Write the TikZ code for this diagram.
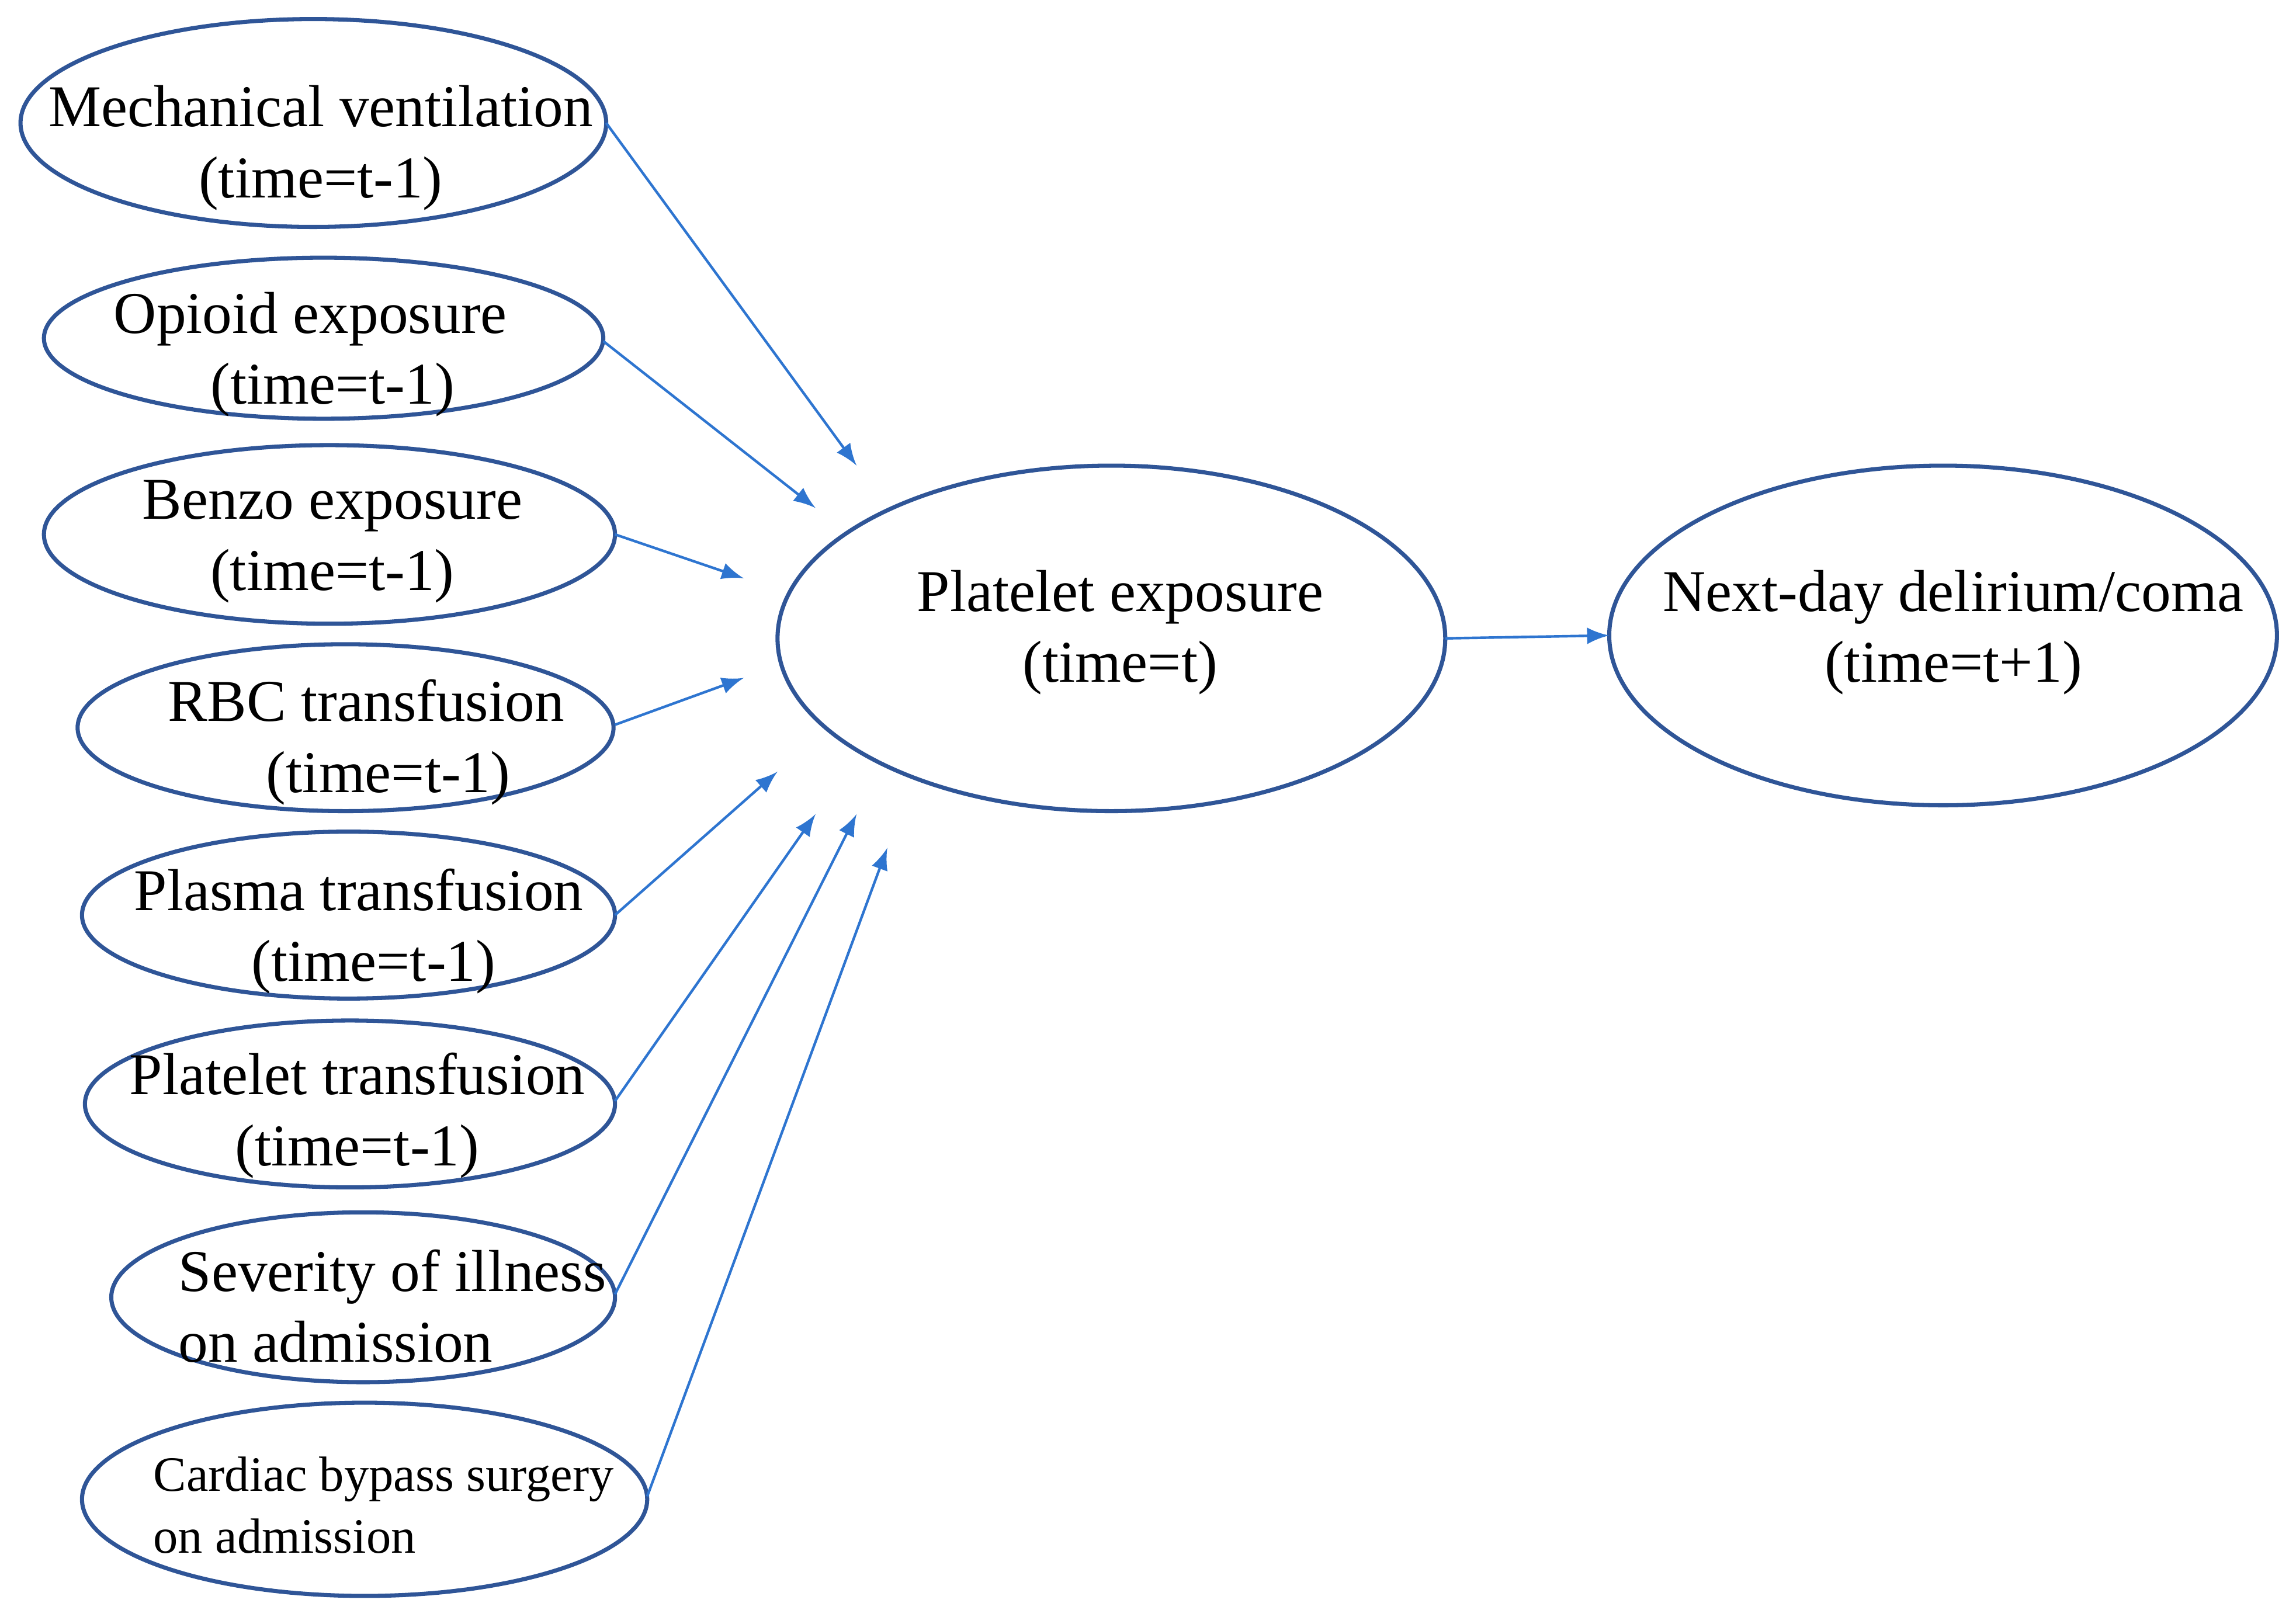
\documentclass[tikz,border=0pt]{standalone}
\usepackage{fontspec}
\setmainfont{Liberation Serif}
\usetikzlibrary{positioning,arrows}
\definecolor{ringblue}{HTML}{2F5597}
\definecolor{arrowblue}{HTML}{2E75D0}

\begin{document}
\begin{tikzpicture}[x=0.01cm,y=-0.01cm,>=latex,
                    every node/.style={font=\fontsize{11.5pt}{13.8pt}\selectfont,align=center},
                    ring/.style={draw=ringblue,thick},
                    link/.style={->,draw=arrowblue,line width=0.5pt}]
  \useasboundingbox (0,0) rectangle (1568,1109);

  % the ellipses
  \draw[ring] (214,84)   ellipse [x radius=200, y radius=71];
  \draw[ring] (221,231)  ellipse [x radius=191, y radius=55];
  \draw[ring] (225,365)  ellipse [x radius=195, y radius=61];
  \draw[ring] (236,497)  ellipse [x radius=183, y radius=57];
  \draw[ring] (238,625)  ellipse [x radius=182, y radius=57];
  \draw[ring] (239,754)  ellipse [x radius=181, y radius=57];
  \draw[ring] (248,886)  ellipse [x radius=172, y radius=58];
  \draw[ring] (249,1024) ellipse [x radius=193, y radius=66];
  \draw[ring] (759,436)  ellipse [x radius=228, y radius=118];
  \draw[ring] (1327,434) ellipse [x radius=228, y radius=116];

  % the texts
  \node (mv)  at (219,101) {Mechanical ventilation\\(time=t-1)};
  \node (op)  at (212,242) {Opioid exposure\\\ \ \ (time=t-1)};
  \node (bz)  at (227,370) {Benzo exposure\\(time=t-1)};
  \node (rbc) at (250,507) {RBC transfusion\\\ \ \ (time=t-1)};
  \node (pl)  at (245,636) {Plasma transfusion\\\ \ (time=t-1)};
  \node (pt)  at (244,762) {Platelet transfusion\\(time=t-1)};
  \node[align=left] (sv) at (268,892) {Severity of illness\\on admission};
  \node[align=left,font=\fontsize{9.6pt}{12pt}\selectfont] (cb) at (262,1028) {Cardiac bypass surgery\\on admission};
  \node (pe)  at (765,432) {Platelet exposure\\(time=t)};
  \node (nd)  at (1334,432) {Next-day delirium/coma\\(time=t+1)};

  % arrow ends
  \coordinate (s1) at (414,84);   \coordinate (t1) at (585,318);
  \coordinate (s2) at (412,233);  \coordinate (t2) at (557,347);
  \coordinate (s3) at (420,365);  \coordinate (t3) at (508,395);
  \coordinate (s4) at (420,495);  \coordinate (t4) at (508,463);
  \coordinate (s5) at (420,625);  \coordinate (t5) at (531,527);
  \coordinate (s6) at (420,752);  \coordinate (t6) at (557,556);
  \coordinate (s7) at (420,884);  \coordinate (t7) at (585,556);
  \coordinate (s8) at (442,1022); \coordinate (t8) at (606,579);
  \coordinate (s9) at (987,436);  \coordinate (t9) at (1099,434);

  \foreach \i in {1,...,9}
    \draw[link] (s\i) -- (t\i);
\end{tikzpicture}
\end{document}
